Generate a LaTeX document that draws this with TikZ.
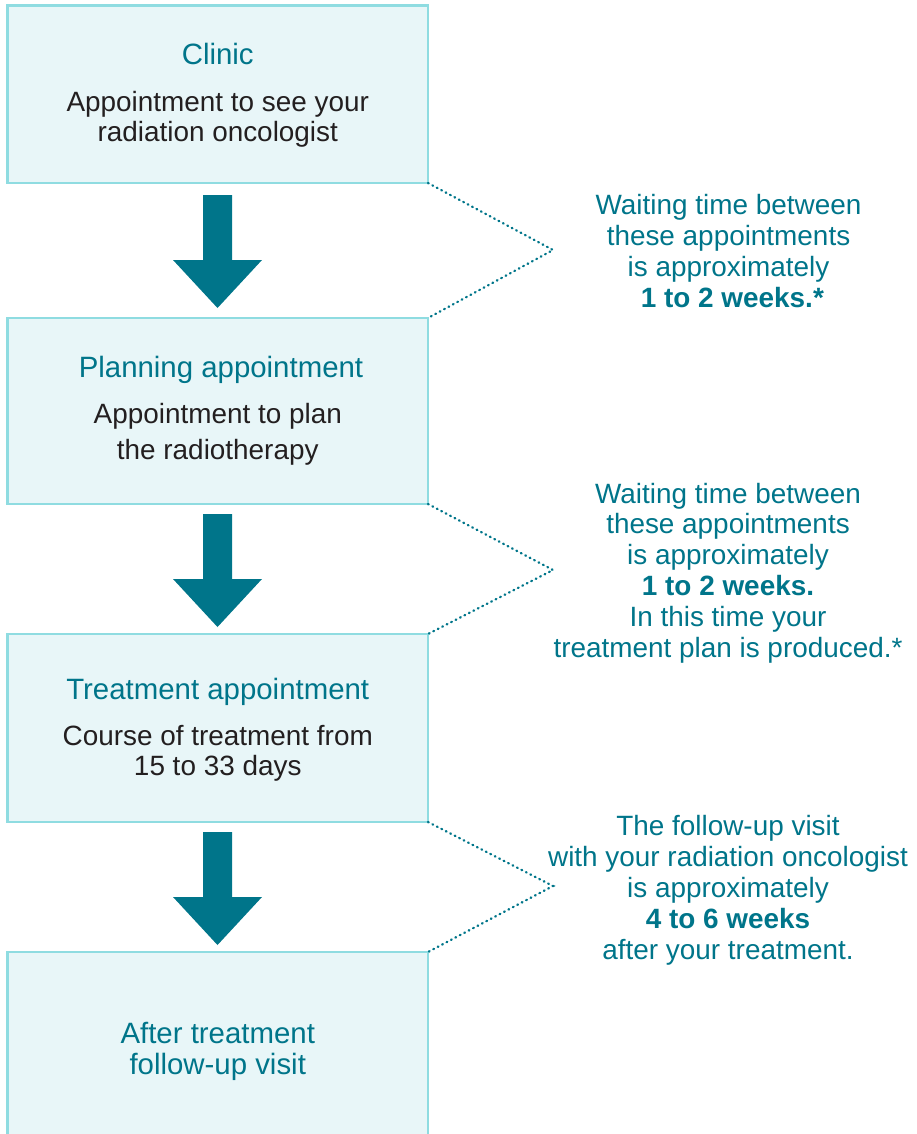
\documentclass[tikz,border=0pt]{standalone}
\usepackage{fontspec}
\setmainfont{Liberation Sans}
\definecolor{mainteal}{HTML}{00758A}
\definecolor{boxfill}{HTML}{E8F6F8}
\definecolor{boxline}{HTML}{8FDCE1}
\definecolor{bodytext}{HTML}{231F20}
\newcommand{\blockarrowat}[1]{%
  \fill[mainteal] (203,#1) -- (232,#1) -- (232,#1+65) -- (262,#1+65) -- (217.5,#1+113)
    -- (173,#1+65) -- (203,#1+65) -- cycle;}
\begin{document}
\begin{tikzpicture}[x=1pt,y=-1pt,
  stagebox/.style={draw=boxline, fill=boxfill, line width=2.6pt, rectangle,
    minimum width=420.5pt, inner sep=0pt, outer sep=0pt},
  titletext/.style={text=mainteal, anchor=base, font=\fontsize{29.4}{31}\selectfont, inner sep=0pt},
  bodyline/.style={text=bodytext, anchor=base, font=\fontsize{27.9}{30}\selectfont, inner sep=0pt},
  sidenote/.style={text=mainteal, align=center, anchor=base, font=\fontsize{27.9}{30.8}\selectfont, inner sep=0pt},
  dotline/.style={draw=mainteal, line width=2.3pt, line cap=round, dash pattern=on 0.8pt off 4.2pt}
]
\useasboundingbox (0,0) rectangle (916,1134);
\clip (0,0) rectangle (916,1134);

% boxes
\node[stagebox, minimum height=177.5pt] (b1) at (217.75,94.25) {};
\node[stagebox, minimum height=186pt] (b2) at (217.75,411) {};
\node[stagebox, minimum height=188pt] (b3) at (217.75,728) {};
\node[stagebox, minimum height=200pt] (b4) at (217.75,1052) {};

% box texts
\node[titletext] (t1) at (217.75,65) {Clinic};
\node[bodyline] (t1a) at (217.75,112) {Appointment to see your};
\node[bodyline] (t1b) at (217.75,142) {radiation oncologist};

\node[titletext] (t2) at (221,377) {Planning appointment};
\node[bodyline] (t2a) at (217.75,423) {Appointment to plan};
\node[bodyline] (t2b) at (217.75,459) {the radiotherapy};

\node[titletext] (t3) at (217.75,699) {Treatment appointment};
\node[bodyline] (t3a) at (217.75,745) {Course of treatment from};
\node[bodyline] (t3b) at (217.75,775) {15 to 33 days};

\node[titletext] (t4) at (217.75,1043) {After treatment};
\node[titletext] (t4b) at (217.75,1074) {follow-up visit};

% block arrows
\blockarrowat{195}
\blockarrowat{514}
\blockarrowat{832}

% dotted connectors
\coordinate (c1) at (553,250);
\coordinate (c2) at (553,570);
\coordinate (c3) at (553,886);
\draw[dotline] (b1.south east) -- (c1) -- (b2.north east);
\draw[dotline] (b2.south east) -- (c2) -- (b3.north east);
\draw[dotline] (b3.south east) -- (c3) -- (b4.north east);

% side notes (anchor base = baseline of last line)
\node[sidenote] (n1) at (728.5,307) {Waiting time between\\these appointments\\is approximately\\\textbf{\ 1 to 2 weeks.*}};
\node[sidenote] (n2) at (728,657) {Waiting time between\\these appointments\\is approximately\\\textbf{1 to 2 weeks.}\\In this time your\\treatment plan is produced.*};
\node[sidenote] (n3) at (728,959) {The follow-up visit\\with your radiation oncologist\\is approximately\\\textbf{4 to 6 weeks}\\after your treatment.};
\end{tikzpicture}
\end{document}
